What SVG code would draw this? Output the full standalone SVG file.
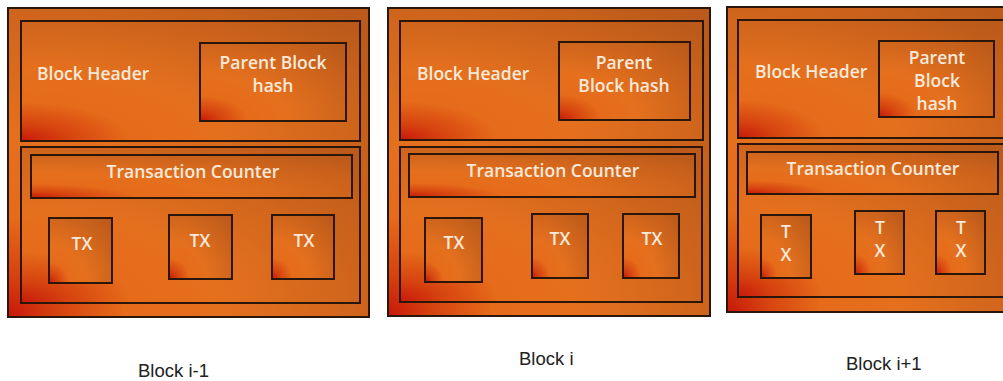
<svg xmlns="http://www.w3.org/2000/svg" width="1003" height="381" viewBox="0 0 1003 381">
  <defs>
    <!-- corner-lit orange fill: red glow in the bottom-left corner fading to orange, darker toward the top-right -->
    <radialGradient id="fill" cx="0" cy="1" r="1.35" fx="0" fy="1">
      <stop offset="0" stop-color="#c8180a"/>
      <stop offset="0.1" stop-color="#d6420f"/>
      <stop offset="0.24" stop-color="#e66b1a"/>
      <stop offset="0.45" stop-color="#e4701e"/>
      <stop offset="1" stop-color="#bb5a1a"/>
    </radialGradient>
  </defs>
  <style>
    .box { fill: url(#fill); stroke: #2a160a; stroke-width: 2; }
    .lbl { font-family: "Open Sans", "Liberation Sans", sans-serif; font-size: 17.5px; font-weight: 600; fill: #fbe9da; }
    .mid { text-anchor: middle; }
    .cap { font-family: "Liberation Sans", Arial, sans-serif; font-size: 18.5px; fill: #222222; }
  </style>

  <rect width="1003" height="381" fill="#ffffff"/>

  <!-- Block i-1 -->
  <g id="block-i-minus-1">
    <rect class="box" x="8" y="8" width="361" height="309"/>
    <g id="b1-header">
      <rect class="box" x="21" y="21" width="339" height="120"/>
      <text class="lbl" x="37" y="80">Block Header</text>
    </g>
    <g id="b1-parent-hash">
      <rect class="box" x="200" y="43" width="146" height="78"/>
      <text class="lbl mid" x="273" y="69">Parent Block</text>
      <text class="lbl mid" x="273" y="92">hash</text>
    </g>
    <g id="b1-body">
      <rect class="box" x="21" y="147" width="339" height="156"/>
    </g>
    <g id="b1-tx-counter">
      <rect class="box" x="31" y="155" width="321" height="43"/>
      <text class="lbl mid" x="193" y="178">Transaction Counter</text>
    </g>
    <g id="b1-tx1">
      <rect class="box" x="49" y="218" width="63" height="65"/>
      <text class="lbl mid" x="82" y="250">TX</text>
    </g>
    <g id="b1-tx2">
      <rect class="box" x="169" y="215" width="63" height="64"/>
      <text class="lbl mid" x="200" y="247">TX</text>
    </g>
    <g id="b1-tx3">
      <rect class="box" x="272" y="215" width="62" height="64"/>
      <text class="lbl mid" x="304" y="247">TX</text>
    </g>
  </g>

  <!-- Block i -->
  <g id="block-i">
    <rect class="box" x="388" y="8" width="322" height="308"/>
    <g id="b2-header">
      <rect class="box" x="400" y="21" width="303" height="119"/>
      <text class="lbl" x="417" y="80">Block Header</text>
    </g>
    <g id="b2-parent-hash">
      <rect class="box" x="559" y="42" width="131" height="78"/>
      <text class="lbl mid" x="624" y="69">Parent</text>
      <text class="lbl mid" x="624" y="92">Block hash</text>
    </g>
    <g id="b2-body">
      <rect class="box" x="400" y="147" width="302" height="155"/>
    </g>
    <g id="b2-tx-counter">
      <rect class="box" x="409" y="154" width="286" height="43"/>
      <text class="lbl mid" x="553" y="177">Transaction Counter</text>
    </g>
    <g id="b2-tx1">
      <rect class="box" x="425" y="218" width="57" height="64"/>
      <text class="lbl mid" x="454" y="249">TX</text>
    </g>
    <g id="b2-tx2">
      <rect class="box" x="532" y="214" width="56" height="64"/>
      <text class="lbl mid" x="560" y="245">TX</text>
    </g>
    <g id="b2-tx3">
      <rect class="box" x="623" y="214" width="56" height="64"/>
      <text class="lbl mid" x="652" y="245">TX</text>
    </g>
  </g>

  <!-- Block i+1 (runs off the right edge) -->
  <g id="block-i-plus-1">
    <rect class="box" x="727" y="7" width="290" height="305"/>
    <g id="b3-header">
      <rect class="box" x="738" y="20" width="266" height="118"/>
      <text class="lbl" x="755" y="78">Block Header</text>
    </g>
    <g id="b3-parent-hash">
      <rect class="box" x="879" y="41" width="115" height="76"/>
      <text class="lbl mid" x="937" y="64">Parent</text>
      <text class="lbl mid" x="937" y="87">Block</text>
      <text class="lbl mid" x="937" y="110">hash</text>
    </g>
    <g id="b3-body">
      <rect class="box" x="738" y="144" width="266" height="153"/>
    </g>
    <g id="b3-tx-counter">
      <rect class="box" x="747" y="152" width="251" height="42"/>
      <text class="lbl mid" x="873" y="175">Transaction Counter</text>
    </g>
    <g id="b3-tx1">
      <rect class="box" x="761" y="215" width="50" height="63"/>
      <text class="lbl mid" x="786" y="238">T</text>
      <text class="lbl mid" x="786" y="261">X</text>
    </g>
    <g id="b3-tx2">
      <rect class="box" x="855" y="211" width="49" height="63"/>
      <text class="lbl mid" x="880" y="234">T</text>
      <text class="lbl mid" x="880" y="257">X</text>
    </g>
    <g id="b3-tx3">
      <rect class="box" x="936" y="211" width="49" height="63"/>
      <text class="lbl mid" x="961" y="234">T</text>
      <text class="lbl mid" x="961" y="257">X</text>
    </g>
  </g>

  <!-- captions -->
  <g id="captions">
    <text class="cap" x="138" y="377">Block i-1</text>
    <text class="cap" x="519" y="365">Block i</text>
    <text class="cap" x="846" y="370">Block i+1</text>
  </g>
</svg>
